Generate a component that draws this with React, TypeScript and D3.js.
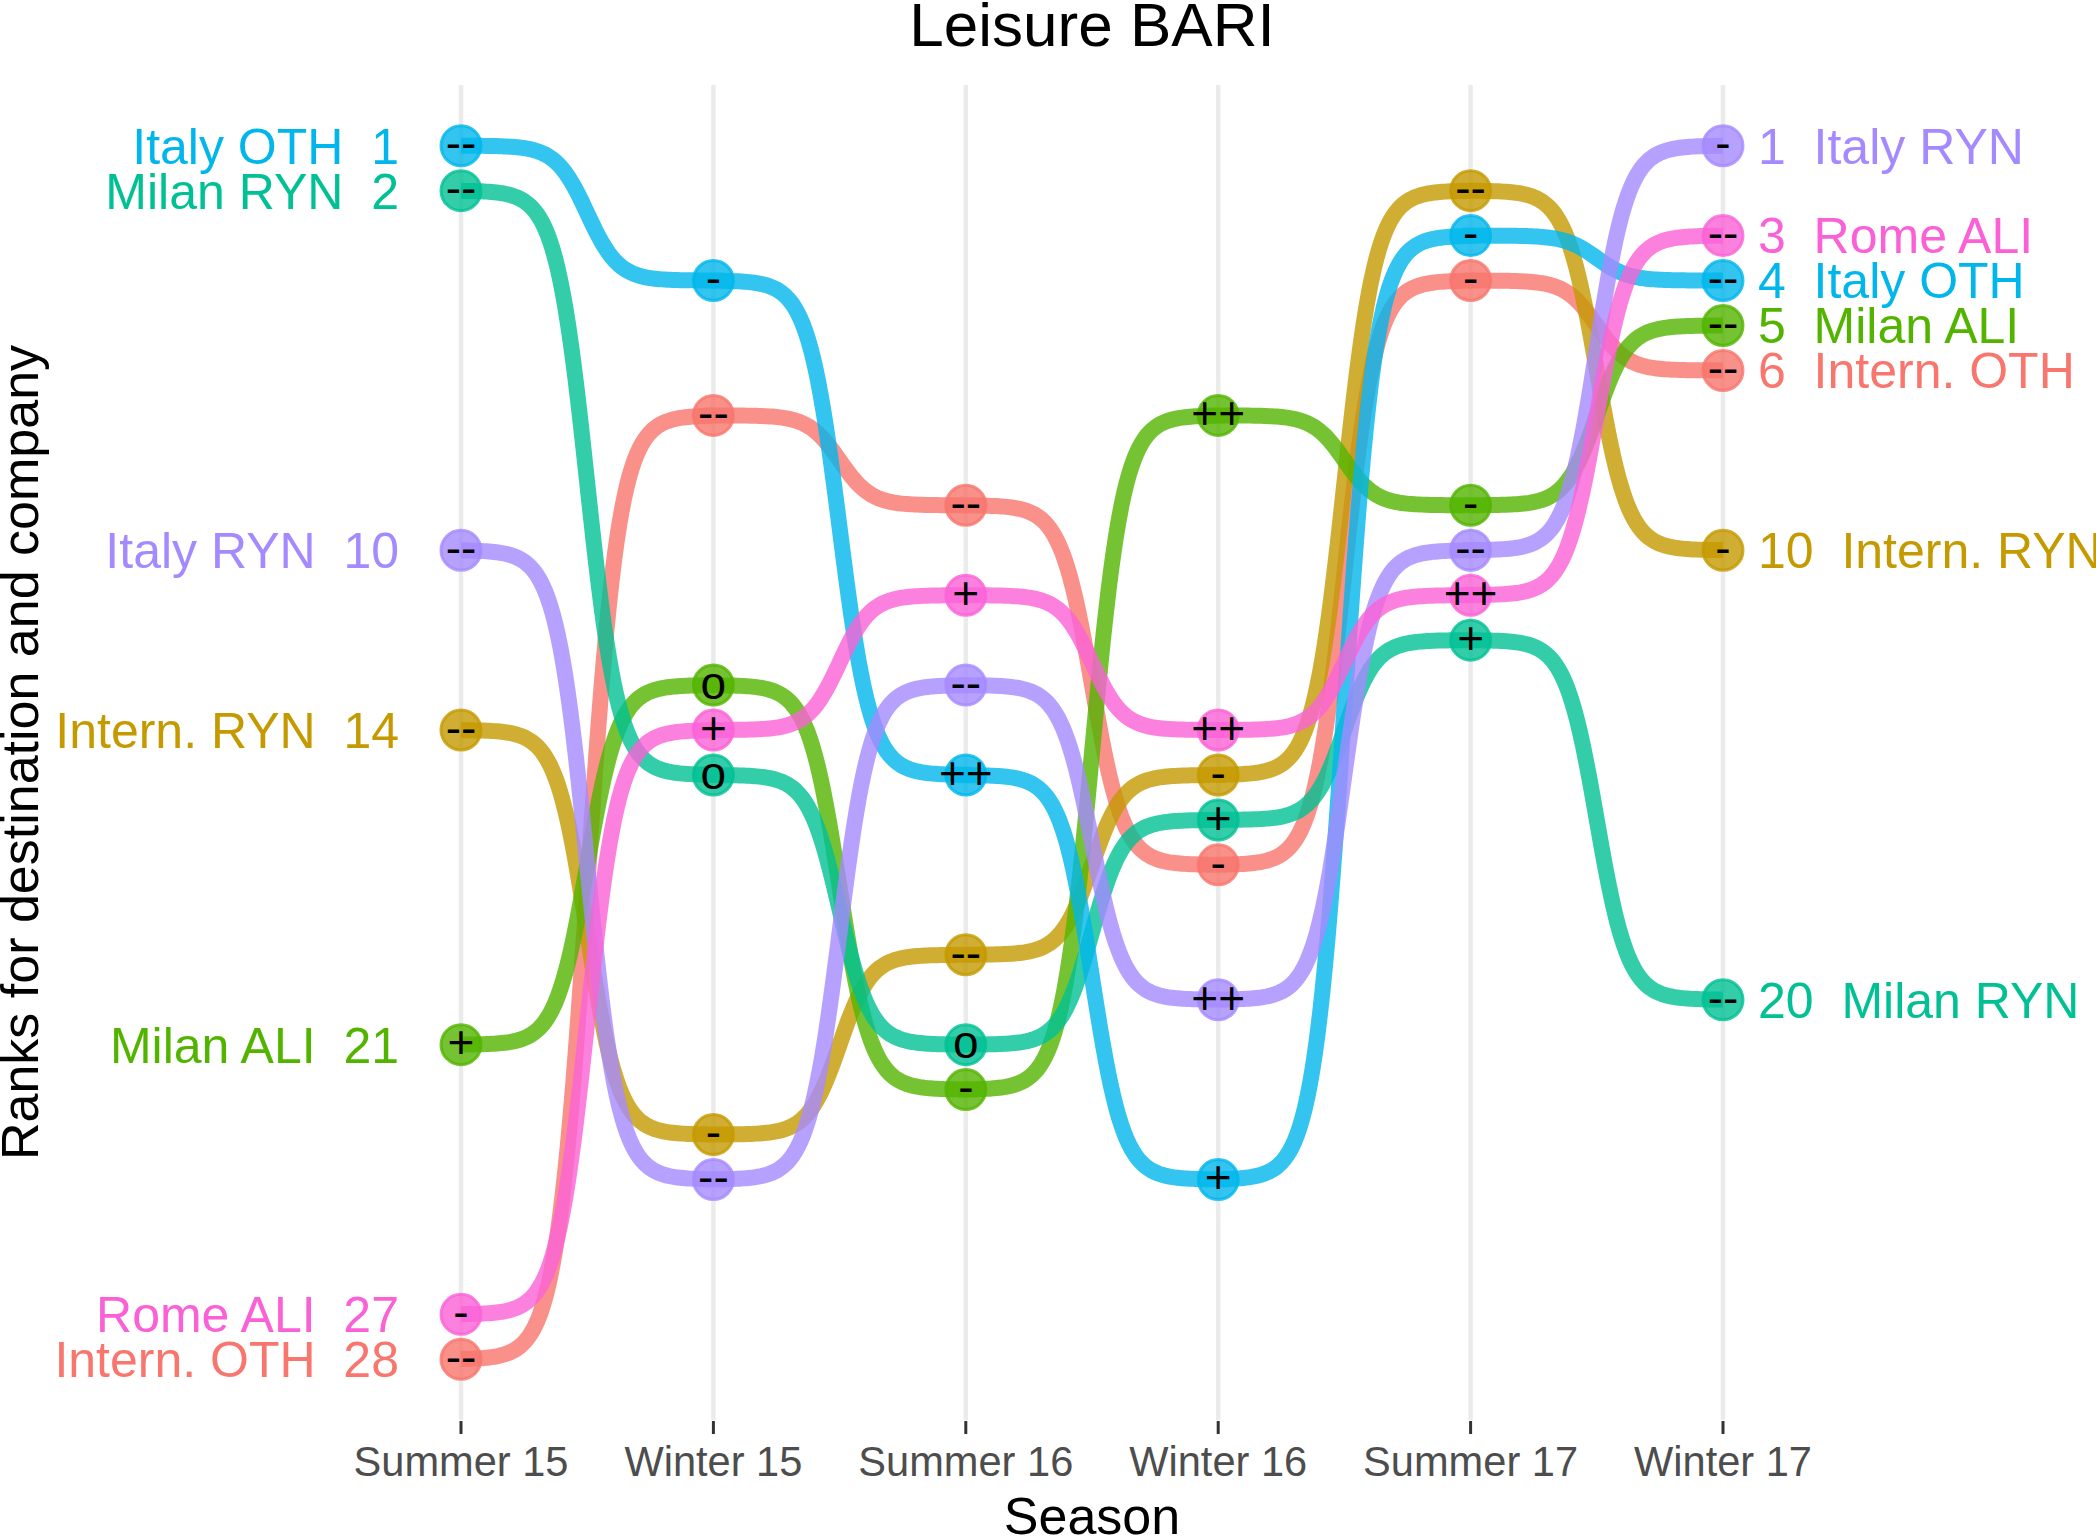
import React from 'react'
import * as d3 from 'd3'

const seasons = ['Summer 15', 'Winter 15', 'Summer 16', 'Winter 16', 'Summer 17', 'Winter 17']

// series in drawing order (ggplot hue palette order)
const groups = ['Intern. OTH', 'Intern. RYN', 'Milan ALI', 'Milan RYN', 'Italy OTH', 'Italy RYN', 'Rome ALI']
const groupColors = ['#F8766D', '#C49A00', '#53B400', '#00C094', '#00B6EB', '#A58AFF', '#FB61D7']

// rank per season, one row per group
const ranks = [
  [28, 7, 9, 17, 4, 6],
  [14, 23, 19, 15, 2, 10],
  [21, 13, 22, 7, 9, 5],
  [2, 15, 21, 16, 12, 20],
  [1, 4, 15, 24, 3, 4],
  [10, 24, 13, 20, 10, 1],
  [27, 14, 11, 14, 11, 3],
]

// trend markers shown inside each point
const markers = [
  ['--', '--', '--', '-', '-', '--'],
  ['--', '-', '--', '-', '--', '-'],
  ['+', 'o', '-', '++', '-', '--'],
  ['--', 'o', 'o', '+', '+', '--'],
  ['--', '-', '++', '+', '-', '--'],
  ['--', '--', '--', '++', '--', '-'],
  ['-', '+', '+', '++', '++', '--'],
]

const WIDTH = 2096
const HEIGHT = 1536
const FONT = '"Liberation Sans", Arial, Helvetica, sans-serif'

const panel = { top: 85, bottom: 1420 }

const x = d3.scalePoint<string>().domain(seasons).range([461, 1723])
const maxRank = d3.max(ranks.flat()) as number
const minRank = d3.min(ranks.flat()) as number
const pad = (maxRank - minRank) * 0.05
const y = d3.scaleLinear().domain([minRank - pad, maxRank + pad]).range([panel.top, panel.bottom])

// ggbump-like sigmoid between two points
function sigmoid(x0: number, x1: number, y0: number, y1: number, smooth = 8, n = 100) {
  const pts: [number, number][] = []
  for (let i = 0; i < n; i++) {
    const t = -smooth + (2 * smooth * i) / (n - 1)
    const s = Math.exp(t) / (Math.exp(t) + 1)
    pts.push([x0 + ((t + smooth) / (2 * smooth)) * (x1 - x0), y0 + s * (y1 - y0)])
  }
  return pts
}

const line = d3.line()

export default function App() {
  const xs = seasons.map(s => x(s) as number)
  const first = xs[0]
  const last = xs[xs.length - 1]
  const midX = (first + last) / 2

  return (
    <svg
      width={WIDTH}
      height={HEIGHT}
      style={{ position: 'absolute', left: 0, top: 0, background: 'white', fontFamily: FONT }}
    >
      {/* vertical grid lines */}
      {xs.map((gx, i) => (
        <line key={'g' + i} x1={gx} x2={gx} y1={panel.top} y2={panel.bottom} stroke="#EBEBEB" strokeWidth={4.5} />
      ))}

      {/* bump lines */}
      {groups.map((g, gi) => {
        let pts: [number, number][] = []
        for (let i = 0; i < seasons.length - 1; i++) {
          pts = pts.concat(sigmoid(xs[i], xs[i + 1], y(ranks[gi][i]), y(ranks[gi][i + 1])))
        }
        return (
          <path key={'l' + g} d={line(pts) || ''} fill="none" stroke={groupColors[gi]} strokeOpacity={0.8} strokeWidth={16} />
        )
      })}

      {/* points */}
      {groups.map((g, gi) =>
        ranks[gi].map((r, i) => (
          <circle
            key={'p' + g + i}
            cx={xs[i]}
            cy={y(r)}
            r={20}
            fill={groupColors[gi]}
            fillOpacity={0.8}
            stroke={groupColors[gi]}
            strokeOpacity={0.8}
            strokeWidth={3}
          />
        ))
      )}

      {/* markers */}
      {groups.map((g, gi) =>
        ranks[gi].map((r, i) => (
          <text
            key={'m' + g + i}
            x={xs[i]}
            y={y(r) + 46 * 0.3}
            textAnchor="middle"
            fontSize={46}
            fill="#000"
            style={{ whiteSpace: 'pre' }}
          >
            {markers[gi][i]}
          </text>
        ))
      )}

      {/* left labels */}
      {groups.map((g, gi) => (
        <text
          key={'ll' + g}
          x={first - 62}
          y={y(ranks[gi][0]) + 50 * 0.358}
          textAnchor="end"
          fontSize={50}
          fill={groupColors[gi]}
          style={{ whiteSpace: 'pre' }}
        >
          {`${g}  ${ranks[gi][0]}`}
        </text>
      ))}

      {/* right labels */}
      {groups.map((g, gi) => (
        <text
          key={'rl' + g}
          x={last + 35}
          y={y(ranks[gi][seasons.length - 1]) + 50 * 0.358}
          textAnchor="start"
          fontSize={50}
          fill={groupColors[gi]}
          style={{ whiteSpace: 'pre' }}
        >
          {`${ranks[gi][seasons.length - 1]}  ${g}`}
        </text>
      ))}

      {/* x axis ticks and labels */}
      {xs.map((tx, i) => (
        <g key={'t' + i}>
          <line x1={tx} x2={tx} y1={panel.bottom + 1} y2={panel.bottom + 14} stroke="#333333" strokeWidth={3} />
          <text x={tx} y={1476} textAnchor="middle" fontSize={41.6} fill="#4D4D4D">
            {seasons[i]}
          </text>
        </g>
      ))}

      {/* titles */}
      <text x={midX} y={46} textAnchor="middle" fontSize={62} fill="#000">
        Leisure BARI
      </text>
      <text x={midX} y={1534} textAnchor="middle" fontSize={52} fill="#000">
        Season
      </text>
      <text
        transform={`translate(38,${(panel.top + panel.bottom) / 2}) rotate(-90)`}
        textAnchor="middle"
        fontSize={52}
        fill="#000"
      >
        Ranks for destination and company
      </text>
    </svg>
  )
}
